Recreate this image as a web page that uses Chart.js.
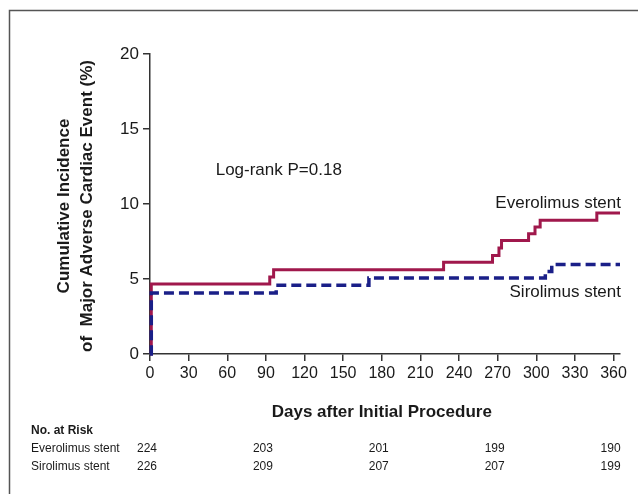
<!DOCTYPE html>
<html>
<head>
<meta charset="utf-8">
<script src="https://cdn.jsdelivr.net/npm/chart.js@4/dist/chart.umd.min.js"></script>
<style>
  html, body { margin: 0; padding: 0; background: #fff; }
  #wrap { position: relative; width: 638px; height: 494px; }
</style>
</head>
<body>
<div id="wrap"><canvas id="kmChart" width="638" height="494"></canvas></div>
<script>
// ---- data ----
var xTicks = [0, 30, 60, 90, 120, 150, 180, 210, 240, 270, 300, 330, 360];
var yTicks = [0, 5, 10, 15, 20];

// Kaplan-Meier style steps (day, cumulative %)
var everoDays = [0, 1, 93, 96, 228, 266, 271, 273, 294, 299, 303, 347, 365];
var everoPct  = [0, 4.67, 5.13, 5.62, 6.11, 6.56, 7.07, 7.56, 8.02, 8.47, 8.91, 9.4, 9.4];
var siroDays  = [0, 1, 98, 170, 307, 312, 365];
var siroPct   = [0, 4.07, 4.58, 5.07, 5.5, 5.96, 5.96];

// numbers at risk
var riskDays  = [0, 90, 180, 270, 360];
var riskEvero = [224, 203, 201, 199, 190];
var riskSiro  = [226, 209, 207, 207, 199];

function toPoints(days, vals) {
    var pts = [];
    for (var i = 0; i < days.length; i++) {
        pts.push({ x: days[i], y: vals[i] });
    }
    return pts;
}

var axisColor = '#333333';
var textColor = '#1a1a1a';

// frame, titles, annotations and the risk table
var textLayer = {
    id: 'textLayer',
    afterDraw: function (chart) {
        var ctx = chart.ctx,
            xs = chart.scales.x,
            ys = chart.scales.y,
            area = chart.chartArea;

        ctx.save();

        // outer frame (top and left only, as in the figure)
        ctx.strokeStyle = '#555555';
        ctx.lineWidth = 1.5;
        ctx.beginPath();
        ctx.moveTo(9.5, 494);
        ctx.lineTo(9.5, 10.5);
        ctx.lineTo(638, 10.5);
        ctx.stroke();

        ctx.fillStyle = textColor;

        // y axis title, two lines
        var midY = (area.top + area.bottom) / 2 + 2;
        ctx.save();
        ctx.font = 'bold 17px "Liberation Sans", Arial, sans-serif';
        ctx.textAlign = 'center';
        ctx.textBaseline = 'middle';
        ctx.translate(64, midY);
        ctx.rotate(-Math.PI / 2);
        ctx.fillText('Cumulative Incidence', 0, 0);
        ctx.restore();
        ctx.save();
        ctx.font = 'bold 17px "Liberation Sans", Arial, sans-serif';
        ctx.textAlign = 'center';
        ctx.textBaseline = 'middle';
        ctx.translate(87, midY);
        ctx.rotate(-Math.PI / 2);
        ctx.fillText('of  Major Adverse Cardiac Event (%)', 0, 0);
        ctx.restore();

        // x axis title
        ctx.font = 'bold 17px "Liberation Sans", Arial, sans-serif';
        ctx.textAlign = 'center';
        ctx.textBaseline = 'middle';
        ctx.fillText('Days after Initial Procedure', (xs.getPixelForValue(0) + xs.getPixelForValue(360)) / 2, 412);

        // in-plot labels
        ctx.font = '17px "Liberation Sans", Arial, sans-serif';
        ctx.textAlign = 'left';
        ctx.fillText('Log-rank P=0.18', xs.getPixelForValue(51), ys.getPixelForValue(12.27));
        ctx.textAlign = 'right';
        ctx.fillText('Everolimus stent', area.right + 1, ys.getPixelForValue(10.07));
        ctx.fillText('Sirolimus stent', area.right + 1, ys.getPixelForValue(4.13));

        // number at risk table
        ctx.textAlign = 'left';
        ctx.font = 'bold 12px "Liberation Sans", Arial, sans-serif';
        ctx.fillText('No. at Risk', 31, 431);
        ctx.font = '12px "Liberation Sans", Arial, sans-serif';
        ctx.fillText('Everolimus stent', 31, 449);
        ctx.fillText('Sirolimus stent', 31, 467);
        ctx.textAlign = 'center';
        for (var i = 0; i < riskDays.length; i++) {
            var px = xs.getPixelForValue(riskDays[i]) - 3;
            ctx.fillText(String(riskEvero[i]), px, 449);
            ctx.fillText(String(riskSiro[i]), px, 467);
        }

        ctx.restore();
    }
};

var kmChart = new Chart(document.getElementById('kmChart').getContext('2d'), {
    type: 'line',
    data: {
        datasets: [{
            label: 'Everolimus stent',
            data: toPoints(everoDays, everoPct),
            borderColor: '#a0184c',
            borderWidth: 3,
            stepped: 'before',
            pointRadius: 0,
            fill: false,
            clip: false,
            order: 2
        }, {
            label: 'Sirolimus stent',
            data: toPoints(siroDays, siroPct),
            borderColor: '#1a1f88',
            borderWidth: 3.5,
            borderDash: [10, 5],
            stepped: 'before',
            pointRadius: 0,
            fill: false,
            clip: false,
            order: 1
        }]
    },
    options: {
        responsive: false,
        animation: false,
        layout: {
            padding: { left: 0, right: 18, top: 54, bottom: 0 }
        },
        plugins: {
            legend: { display: false },
            tooltip: { enabled: false }
        },
        scales: {
            x: {
                type: 'linear',
                min: 0,
                max: 365,
                afterBuildTicks: function (scale) {
                    scale.ticks = xTicks.map(function (v) { return { value: v }; });
                },
                afterFit: function (scale) {
                    scale.height = 140;
                },
                grid: {
                    drawOnChartArea: false,
                    drawTicks: true,
                    tickLength: 7,
                    tickColor: axisColor,
                    lineWidth: 1.5
                },
                border: { display: true, color: axisColor, width: 1.5 },
                ticks: {
                    color: textColor,
                    font: { size: 16, family: '"Liberation Sans", Arial, sans-serif' },
                    padding: 3,
                    maxRotation: 0,
                    autoSkip: false
                }
            },
            y: {
                min: 0,
                max: 20,
                afterBuildTicks: function (scale) {
                    scale.ticks = yTicks.map(function (v) { return { value: v }; });
                },
                afterFit: function (scale) {
                    scale.width = 150;
                },
                grid: {
                    drawOnChartArea: false,
                    drawTicks: true,
                    tickLength: 7,
                    tickColor: axisColor,
                    lineWidth: 1.5
                },
                border: { display: true, color: axisColor, width: 1.5 },
                ticks: {
                    color: textColor,
                    font: { size: 17, family: '"Liberation Sans", Arial, sans-serif' },
                    padding: 4
                }
            }
        }
    },
    plugins: [textLayer]
});
</script>
</body>
</html>
